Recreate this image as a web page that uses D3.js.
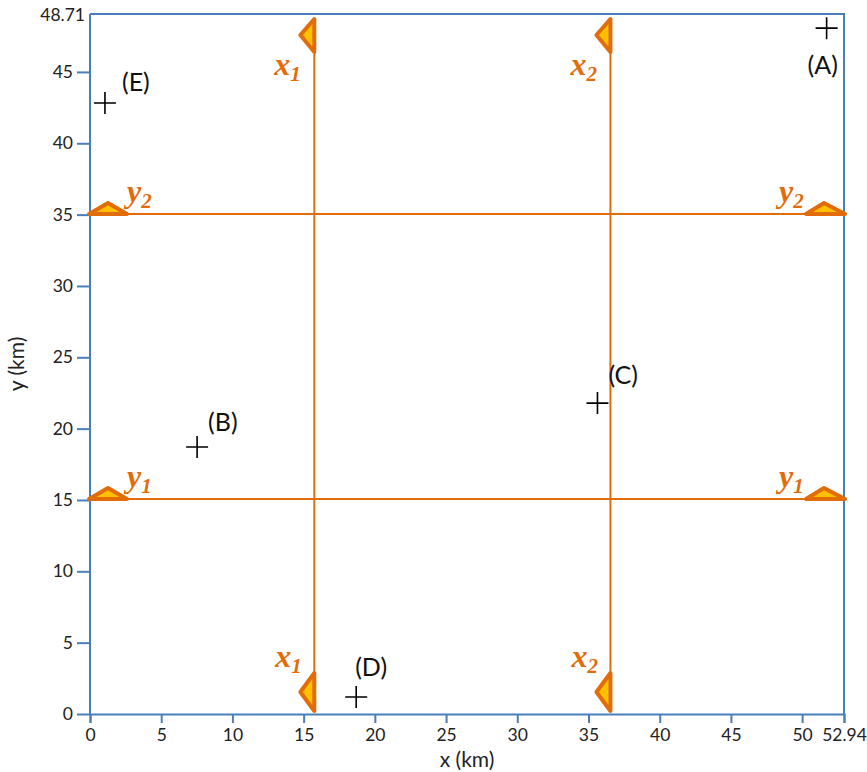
<!DOCTYPE html>
<html>
<head>
<meta charset="utf-8">
<script src="https://cdn.jsdelivr.net/npm/d3@7"></script>
<style>
  body { margin: 0; background: #fff; }
  svg { display: block; }
</style>
</head>
<body>
<svg id="chart" width="867" height="772"></svg>
<script>
// Axis extents and tick values
const xMax = 52.94;
const yMax = 48.71;
const xTicks = [0, 5, 10, 15, 20, 25, 30, 35, 40, 45, 50, 52.94];
const yTicks = [0, 5, 10, 15, 20, 25, 30, 35, 40, 45];

// Survey points
const pointNames = ["A", "B", "C", "D", "E"];
const pointX = [51.72, 7.52, 35.63, 18.69, 1.05];
const pointY = [48.07, 18.71, 21.79, 1.19, 42.82];

// Grid lines (km)
const xLineNames = ["1", "2"];
const xLineValues = [15.75, 36.54];
const yLineNames = ["1", "2"];
const yLineValues = [15.07, 35.04];

const axisColor = "#4a7ebb";
const lineColor = "#e36c0a";
const fillColor = "#ffc000";
const textFont = "Lato, 'Open Sans', sans-serif";

const svg = d3.select("#chart");
const x = d3.scaleLinear().domain([0, xMax]).range([90, 844]);
const y = d3.scaleLinear().domain([0, yMax]).range([714, 19]);
const frameTop = 14;

// Plot frame
svg.append("path")
  .attr("d", `M${x(0)},${frameTop}H${x(xMax)}V${y(0)}`)
  .attr("fill", "none").attr("stroke", axisColor).attr("stroke-width", 2);

// Axes
const xAxis = svg.append("g").attr("transform", `translate(0,${y(0)})`)
  .call(d3.axisBottom(x).tickValues(xTicks).tickSize(9).tickPadding(6)
    .tickFormat(d => d === xMax ? "52.94" : d3.format("d")(d)));
const yAxis = svg.append("g").attr("transform", `translate(${x(0)},0)`)
  .call(d3.axisLeft(y).tickValues(yTicks).tickSize(13).tickPadding(4)
    .tickFormat(d3.format("d")));
[xAxis, yAxis].forEach(g => {
  g.select(".domain").attr("stroke", axisColor).attr("stroke-width", 2);
  g.selectAll(".tick line").attr("stroke", axisColor).attr("stroke-width", 2);
  g.selectAll(".tick text").attr("fill", "#222").style("font-family", textFont).style("font-size", "17.5px");
});
yAxis.select(".domain").attr("d", `M0,${y(0)}V${frameTop}`);
// Top-of-axis value label
svg.append("text").attr("x", 85).attr("y", frameTop + 3)
  .attr("text-anchor", "end").attr("dominant-baseline", "middle")
  .attr("fill", "#222").style("font-family", textFont).style("font-size", "17.5px")
  .text("48.71");

// Axis titles
svg.append("text").attr("x", (x(0) + x(xMax)) / 2).attr("y", 767)
  .attr("text-anchor", "middle").attr("fill", "#222")
  .style("font-family", textFont).style("font-size", "21px").text("x (km)");
svg.append("text").attr("transform", `translate(24,${(y(0) + frameTop) / 2}) rotate(-90)`)
  .attr("text-anchor", "middle").attr("fill", "#222")
  .style("font-family", textFont).style("font-size", "21px").text("y (km)");

// Grid lines
svg.selectAll(".vline").data(xLineValues).join("line")
  .attr("x1", d => x(d)).attr("x2", d => x(d))
  .attr("y1", frameTop + 4).attr("y2", y(0) - 2)
  .attr("stroke", lineColor).attr("stroke-width", 2);
svg.selectAll(".hline").data(yLineValues).join("line")
  .attr("x1", x(0)).attr("x2", x(xMax))
  .attr("y1", d => y(d)).attr("y2", d => y(d))
  .attr("stroke", lineColor).attr("stroke-width", 2);

// Triangle markers
function tri(points) {
  return "M" + points.map(p => p.join(",")).join("L") + "Z";
}
const markers = [];
xLineValues.forEach(v => {
  const px = x(v);
  markers.push(tri([[px, 19], [px, 52], [px - 14, 35]]));
  markers.push(tri([[px, 673], [px, 711], [px - 14, 692]]));
});
yLineValues.forEach(v => {
  const py = y(v);
  markers.push(tri([[x(0) - 1, py], [x(0) + 37, py], [x(0) + 18, py - 11]]));
  markers.push(tri([[x(xMax) - 38, py], [x(xMax) + 1, py], [x(xMax) - 20, py - 11]]));
});
svg.selectAll(".marker").data(markers).join("path")
  .attr("d", d => d).attr("fill", fillColor)
  .attr("stroke", lineColor).attr("stroke-width", 4).attr("stroke-linejoin", "round");

// Line labels with subscripts
function lineLabel(px, py, letter, sub) {
  const t = svg.append("text").attr("x", px).attr("y", py)
    .attr("fill", lineColor).style("font-family", "'Liberation Serif', 'Times New Roman', serif")
    .style("font-style", "italic").style("font-weight", "bold").style("font-size", "32px");
  t.append("tspan").text(letter);
  t.append("tspan").attr("dy", 6).style("font-size", "21px").text(sub);
}
xLineValues.forEach((v, i) => {
  lineLabel(x(v) - 40, 75, "x", xLineNames[i]);
  lineLabel(x(v) - 39, 667, "x", xLineNames[i]);
});
yLineValues.forEach((v, i) => {
  lineLabel(x(0) + 37, y(v) - 12, "y", yLineNames[i]);
  lineLabel(x(xMax) - 65, y(v) - 12, "y", yLineNames[i]);
});

// Point crosses and names
const pts = pointNames.map((n, i) => ({ n, x: pointX[i], y: pointY[i] }));
const crossSize = 11;
pts.forEach(p => {
  const cx = x(p.x), cy = y(p.y);
  svg.append("path")
    .attr("d", `M${cx - crossSize},${cy}H${cx + crossSize}M${cx},${cy - crossSize}V${cy + crossSize}`)
    .attr("stroke", "#000").attr("stroke-width", 1.6);
});
const labelOffset = { A: [-19, 40], B: [11, -22], C: [11, -25], D: [-1, -27], E: [17, -18] };
svg.selectAll(".plabel").data(pts).join("text")
  .attr("x", d => x(d.x) + labelOffset[d.n][0])
  .attr("y", d => y(d.y) + labelOffset[d.n][1])
  .attr("dominant-baseline", "middle")
  .attr("fill", "#111").style("font-family", textFont).style("font-size", "25px")
  .text(d => `(${d.n})`);
</script>
</body>
</html>
